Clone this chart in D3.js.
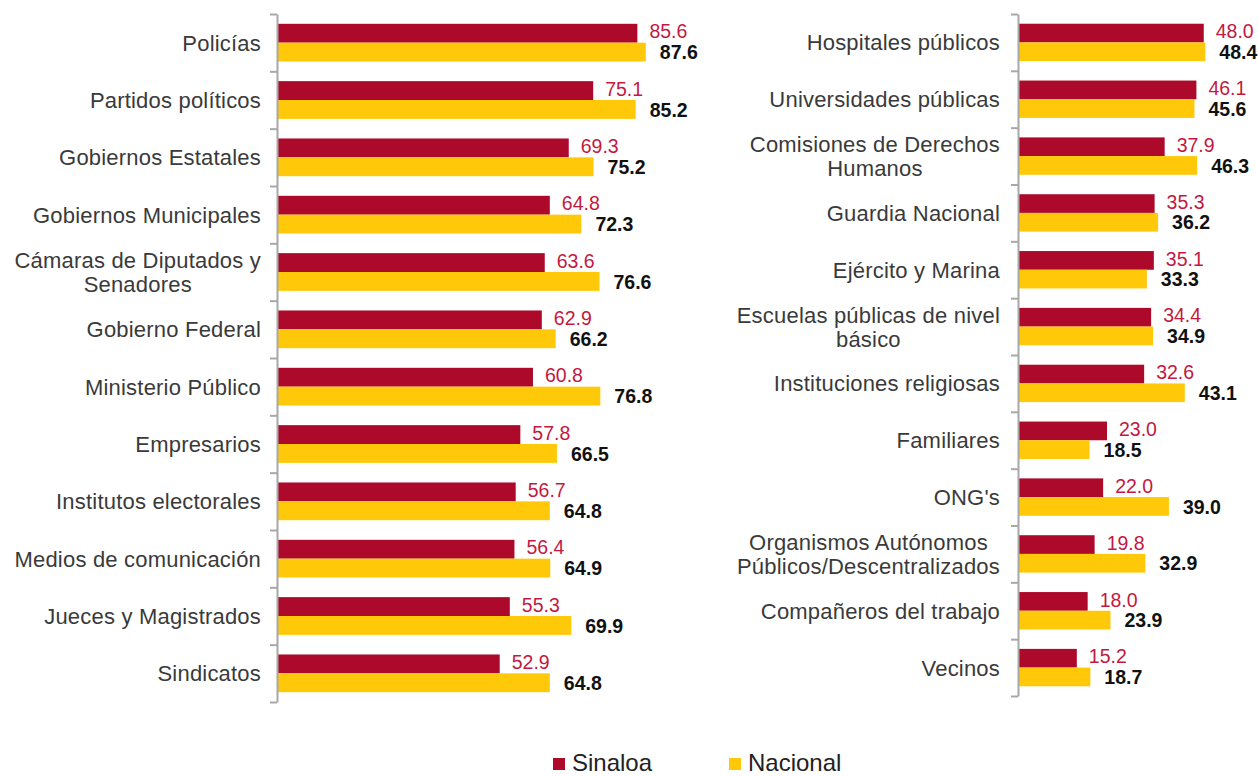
<!DOCTYPE html>
<html>
<head>
<meta charset="utf-8">
<script src="https://cdn.jsdelivr.net/npm/d3@7"></script>
<style>
  body { margin: 0; background: #fff; }
  svg { display: block; font-family: "Liberation Sans", Arial, sans-serif; }
</style>
</head>
<body>
<svg width="1258" height="776"></svg>
<script>
// data
var series = ["Sinaloa", "Nacional"];
var seriesColors = ["#AD0A2B", "#FFC90A"];

var leftCats = ["Policías", "Partidos políticos", "Gobiernos Estatales", "Gobiernos Municipales",
  "Cámaras de Diputados y\nSenadores", "Gobierno Federal", "Ministerio Público", "Empresarios",
  "Institutos electorales", "Medios de comunicación", "Jueces y Magistrados", "Sindicatos"];
var leftSinaloa = [85.6, 75.1, 69.3, 64.8, 63.6, 62.9, 60.8, 57.8, 56.7, 56.4, 55.3, 52.9];
var leftNacional = [87.6, 85.2, 75.2, 72.3, 76.6, 66.2, 76.8, 66.5, 64.8, 64.9, 69.9, 64.8];

var rightCats = ["Hospitales públicos", "Universidades públicas", "Comisiones de Derechos\nHumanos",
  "Guardia Nacional", "Ejército y Marina", "Escuelas públicas de nivel\nbásico",
  "Instituciones religiosas", "Familiares", "ONG's", "Organismos Autónomos\nPúblicos/Descentralizados",
  "Compañeros del trabajo", "Vecinos"];
var rightSinaloa = [48.0, 46.1, 37.9, 35.3, 35.1, 34.4, 32.6, 23.0, 22.0, 19.8, 18.0, 15.2];
var rightNacional = [48.4, 45.6, 46.3, 36.2, 33.3, 34.9, 43.1, 18.5, 39.0, 32.9, 23.9, 18.7];

var svg = d3.select("svg");

function drawPanel(cats, sin, nac, x0, x1, y0, y1, labelGap) {
  var g = svg.append("g");
  var rows = cats.map(function(c, i) { return { cat: c, vals: [sin[i], nac[i]] }; });

  var x = d3.scaleLinear().domain([0, 100]).range([x0, x1]);
  var y = d3.scaleBand().domain(cats).range([y0, y1]).paddingInner(0.342).paddingOuter(0.171);
  var ySub = d3.scaleBand().domain(series).range([0, y.bandwidth()]);

  var grp = g.selectAll("g.row").data(rows).enter().append("g")
      .attr("class", "row")
      .attr("transform", function(d) { return "translate(0," + y(d.cat) + ")"; });

  grp.selectAll("rect").data(function(d) { return d.vals; }).enter().append("rect")
      .attr("x", x(0))
      .attr("y", function(d, i) { return ySub(series[i]); })
      .attr("width", function(d) { return x(d) - x(0); })
      .attr("height", ySub.bandwidth())
      .attr("fill", function(d, i) { return seriesColors[i]; });

  grp.selectAll("text.val").data(function(d) { return d.vals; }).enter().append("text")
      .attr("class", "val")
      .attr("x", function(d, i) { return x(d) + (i == 0 ? 12 : 14); })
      .attr("y", function(d, i) { return ySub(series[i]) + ySub.bandwidth() / 2 + (i == 0 ? 0 : 2); })
      .attr("dominant-baseline", "middle")
      .style("font-size", "19.5px")
      .style("font-weight", function(d, i) { return i == 0 ? "normal" : "bold"; })
      .attr("fill", function(d, i) { return i == 0 ? "#C3183F" : "#111"; })
      .text(function(d) { return d.toFixed(1); });

  // axis with ticks at band boundaries
  var yEdge = d3.scaleLinear().domain([0, cats.length]).range([y0, y1]);
  var ax = g.append("g")
      .attr("transform", "translate(" + x0 + ",0)")
      .call(d3.axisLeft(yEdge).tickValues(d3.range(cats.length + 1)).tickSize(7).tickSizeOuter(0).tickFormat(""));
  ax.selectAll("path, line").attr("stroke", "#A8A8A8").attr("stroke-width", 2);

  // category labels
  var anchor = x0 - labelGap;
  grp.each(function(d) {
    var lines = d.cat.split("\n");
    var t = d3.select(this).append("text")
        .style("font-size", "22px")
        .style("letter-spacing", "0.2px")
        .attr("fill", "#3A3A3A");
    var cy = y.bandwidth() / 2;
    var tspans = t.selectAll("tspan").data(lines).enter().append("tspan")
        .attr("y", function(l, i) { return cy + (i - (lines.length - 1) / 2) * 24 + 8; })
        .text(function(l) { return l; });
    var widths = [];
    tspans.each(function() { widths.push(this.getComputedTextLength()); });
    var maxW = d3.max(widths);
    tspans.attr("x", anchor - maxW / 2).attr("text-anchor", "middle");
  });
}

drawPanel(leftCats, leftSinaloa, leftNacional, 277, 698, 14, 702, 16);
drawPanel(rightCats, rightSinaloa, rightNacional, 1018, 1405, 14, 696, 18);

// legend
var legX = [553, 729];
var leg = svg.append("g").selectAll("g").data(series).enter().append("g")
    .attr("transform", function(d, i) { return "translate(" + legX[i] + ",758)"; });
leg.append("rect").attr("width", 12).attr("height", 12)
    .attr("fill", function(d, i) { return seriesColors[i]; });
leg.append("text").attr("x", 19).attr("y", 13)
    .style("font-size", "24px").attr("fill", "#222")
    .text(function(d) { return d; });
</script>
</body>
</html>
